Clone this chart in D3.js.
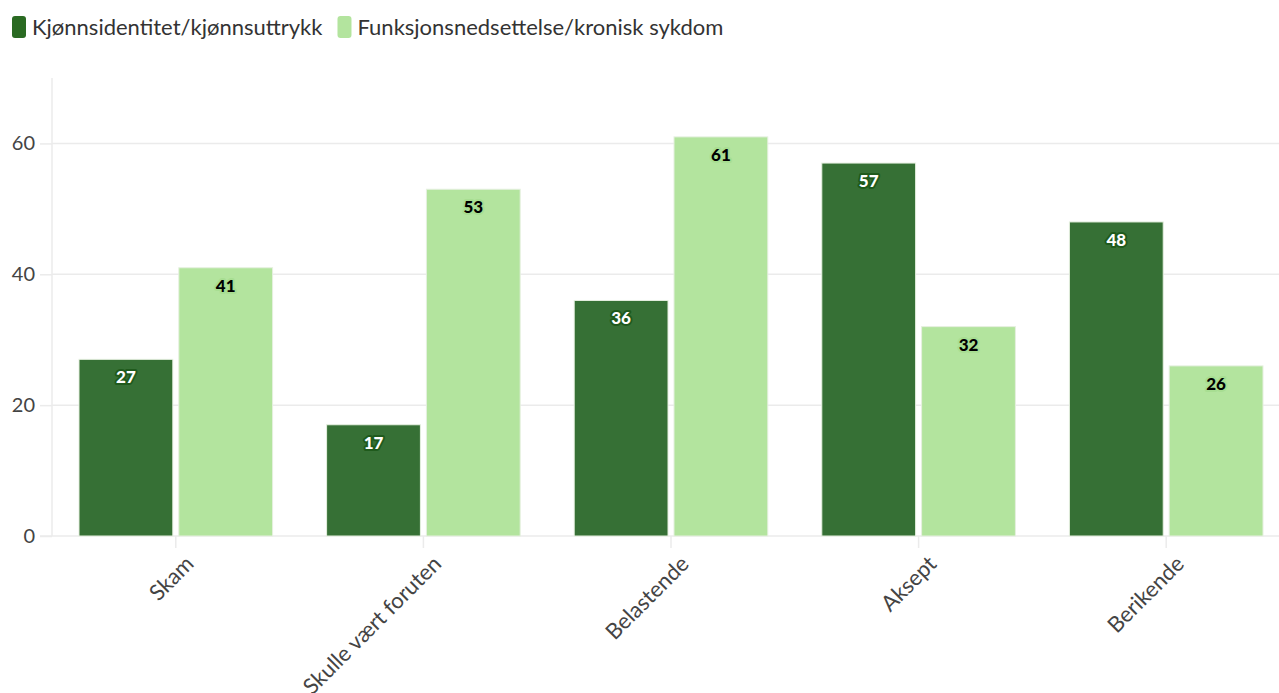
<!DOCTYPE html>
<html><head><meta charset="utf-8">
<script src="https://cdn.jsdelivr.net/npm/d3@7"></script>
<style>
body{margin:0;background:#fff;font-family:Lato,"Noto Sans",sans-serif;}
svg{display:block}
</style></head>
<body><svg id="c" width="1279" height="693"></svg>
<script>
const categories = ["Skam","Skulle vært foruten","Belastende","Aksept","Berikende"];
const seriesNames = ["Kjønnsidentitet/kjønnsuttrykk","Funksjonsnedsettelse/kronisk sykdom"];
const kjonn = [27,17,36,57,48];
const funk = [41,53,61,32,26];
const yTicks = [0,20,40,60];
const colors = ["#367035","#b3e49e"];
const labelFill = ["#fff","#000"];
const labelStroke = ["#1f5a1c","#a8de92"];

const svg = d3.select("#c");
const series = [kjonn, funk];
const x0 = d3.scaleBand().domain(categories).range([52,1290]).paddingInner(0).paddingOuter(0);
const y = d3.scaleLinear().domain([0,70]).range([536,78]);
const x1 = d3.scaleBand().domain([0,1]).range([27, x0.bandwidth()-27]).paddingInner(0.06);

// grid
svg.append("g").selectAll("line").data(yTicks.filter(d=>d>0)).join("line")
 .attr("x1",52).attr("x2",1279).attr("y1",d=>y(d)).attr("y2",d=>y(d))
 .attr("stroke","#ebebeb").attr("stroke-width",1.5);

// y axis
const ya = svg.append("g").attr("transform","translate(52,0)")
 .call(d3.axisLeft(y).tickValues(yTicks).tickSize(12).tickPadding(5));
ya.select(".domain").attr("stroke","#ebebeb").attr("stroke-width",1.5).attr("d","M0,78V536");
ya.selectAll(".tick line").attr("stroke","#ebebeb").attr("stroke-width",1.5);
ya.selectAll(".tick text").attr("fill","#444").style("font-size","20px").style("font-family","Lato");

// x axis
const xa = svg.append("g").attr("transform","translate(0,536)")
 .call(d3.axisBottom(x0).tickSize(12).tickPadding(4));
xa.select(".domain").attr("stroke","#ebebeb").attr("stroke-width",1.5).attr("d","M40,0H1279");
xa.selectAll(".tick line").attr("stroke","#ebebeb").attr("stroke-width",1.5);
xa.selectAll(".tick text").attr("fill","#444").style("font-size","22px").style("font-family","Lato")
 .attr("text-anchor","end").attr("dy","0").attr("transform","translate(8,18) rotate(-45)");

// bars
const g = svg.append("g");
categories.forEach((c,i)=>{
  series.forEach((s,k)=>{
    const bx = x0(c)+x1(k), bw = x1.bandwidth();
    g.append("rect").attr("x",bx).attr("y",y(s[i])).attr("width",bw).attr("height",y(0)-y(s[i]))
     .attr("fill",colors[k]).attr("stroke","#e6f0e0").attr("stroke-width",1);
    g.append("text").attr("x",bx+bw/2).attr("y",y(s[i])+24).attr("text-anchor","middle")
     .style("font-size","17px").style("font-weight","900").style("font-family","Lato")
     .attr("fill",labelFill[k]).attr("stroke",labelStroke[k]).attr("stroke-width",4)
     .attr("paint-order","stroke").attr("stroke-linejoin","round").text(s[i]);
  });
});

// legend
const lg = svg.append("g");
let lx = 12;
seriesNames.forEach((n,k)=>{
  lg.append("rect").attr("x",lx).attr("y",16).attr("width",14).attr("height",22).attr("rx",3).attr("fill",k?colors[1]:"#2a6a22");
  const t = lg.append("text").attr("x",lx+20).attr("y",35).style("font-size","22px").style("font-family","Lato").attr("fill","#333").text(n);
  lx += 20 + t.node().getComputedTextLength() + 15;
});
</script></body></html>
